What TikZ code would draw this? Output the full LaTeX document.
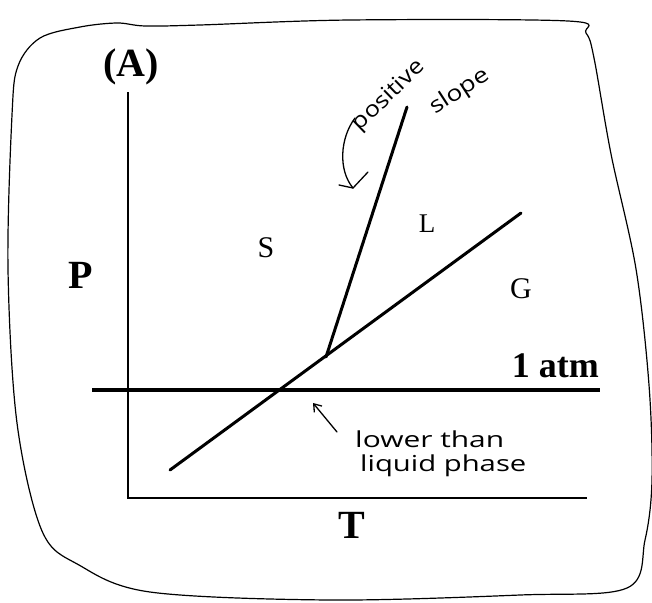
\documentclass[tikz,border=0pt]{standalone}
\usepackage{fontspec}
\setmainfont{Liberation Serif}
\newfontfamily\handfont{Open Sans}
\usetikzlibrary{arrows.meta}
\tikzset{
  axisline/.style={line width=1.3pt},
  phaseline/.style={line width=3pt},
  atmline/.style={line width=4pt},
  border/.style={line width=1.2pt, line join=round},
  bigtxt/.style={font=\fontsize{38}{40}\selectfont, inner sep=0pt, anchor=base},
  regtxt/.style={font=\fontsize{30}{32}\selectfont, inner sep=0pt, anchor=base},
  handtxt/.style={font=\handfont\fontsize{22}{24}\selectfont, inner sep=0pt},
  handarrow/.style={line width=1.3pt, line cap=round}
}
\begin{document}
\begin{tikzpicture}[x=1pt,y=-1pt]
\useasboundingbox (0,0) rectangle (652,602);
% hand-drawn frame
\draw[border] plot[smooth cycle, tension=0.55] coordinates {
 (12,115) (18,66) (40,38) (80,27) (117,23) (145,26) (200,25) (350,20) (568,21)
 (586,33) (594,58) (611,154) (636,269) (649,385) (652,480) (645,540) (627,588)
 (520,595) (330,600) (150,592) (79,565) (42,531) (17,423) (8,269)};
% axes
\coordinate (ytop) at (128,92);
\coordinate (origin) at (128,498);
\coordinate (xend) at (587,498);
\draw[axisline] (ytop) -- (origin) -- (xend);
% 1 atm line
\coordinate (atmL) at (92,390);
\coordinate (atmR) at (600,390);
\draw[atmline] (atmL) -- (atmR);
% phase boundaries
\coordinate (gasLow) at (170,470);
\coordinate (triple) at (326,357);
\coordinate (gasHigh) at (521,213);
\coordinate (meltTop) at (407,107);
\draw[phaseline, line cap=round] (gasLow) -- (gasHigh);
\draw[phaseline, line cap=round] (triple) -- (meltTop);
% labels
\node[bigtxt, font=\fontsize{40}{42}\selectfont\bfseries] (A) at (131,76) {(A)};
\node[bigtxt, font=\fontsize{40}{42}\selectfont\bfseries] (P) at (81,288) {P};
\node[bigtxt, font=\fontsize{40}{42}\selectfont\bfseries] (T) at (352,538) {T};
\node[regtxt] (S) at (266,257) {S};
\node[regtxt, font=\fontsize{27}{29}\selectfont] (L) at (427,232) {L};
\node[regtxt] (G) at (521,298) {G};
\node[bigtxt, font=\fontsize{36}{38}\selectfont\bfseries, anchor=base east] (atm) at (599,377) {1 atm};
% handwritten notes
\node[handtxt, rotate=44] (pos) at (389,96) {\scalebox{1.15}[1]{positive}};
\node[handtxt, rotate=33] (slope) at (460,92) {\scalebox{1.2}[1]{slope}};
\node[handtxt, anchor=base west] (lower) at (355,447) {\scalebox{1.36}[1]{lower than}};
\node[handtxt, anchor=base west] (liquid) at (360,471) {\scalebox{1.33}[1]{liquid phase}};
% curved arrow to melting line
\coordinate (c1) at (355,118);
\coordinate (c2) at (353,188);
\coordinate (w1) at (339,185);
\coordinate (w2) at (368,172);
\draw[handarrow] (c1) .. controls (340,138) and (338,170) .. (c2);
\draw[handarrow] (w1) -- (c2) -- (w2);
% arrow to crossing point
\coordinate (la1) at (337,432);
\coordinate (la2) at (313,403);
\draw[handarrow, -{Straight Barb[length=7pt,width=10pt,line width=1.3pt]}] (la1) -- (la2);
\end{tikzpicture}
\end{document}
